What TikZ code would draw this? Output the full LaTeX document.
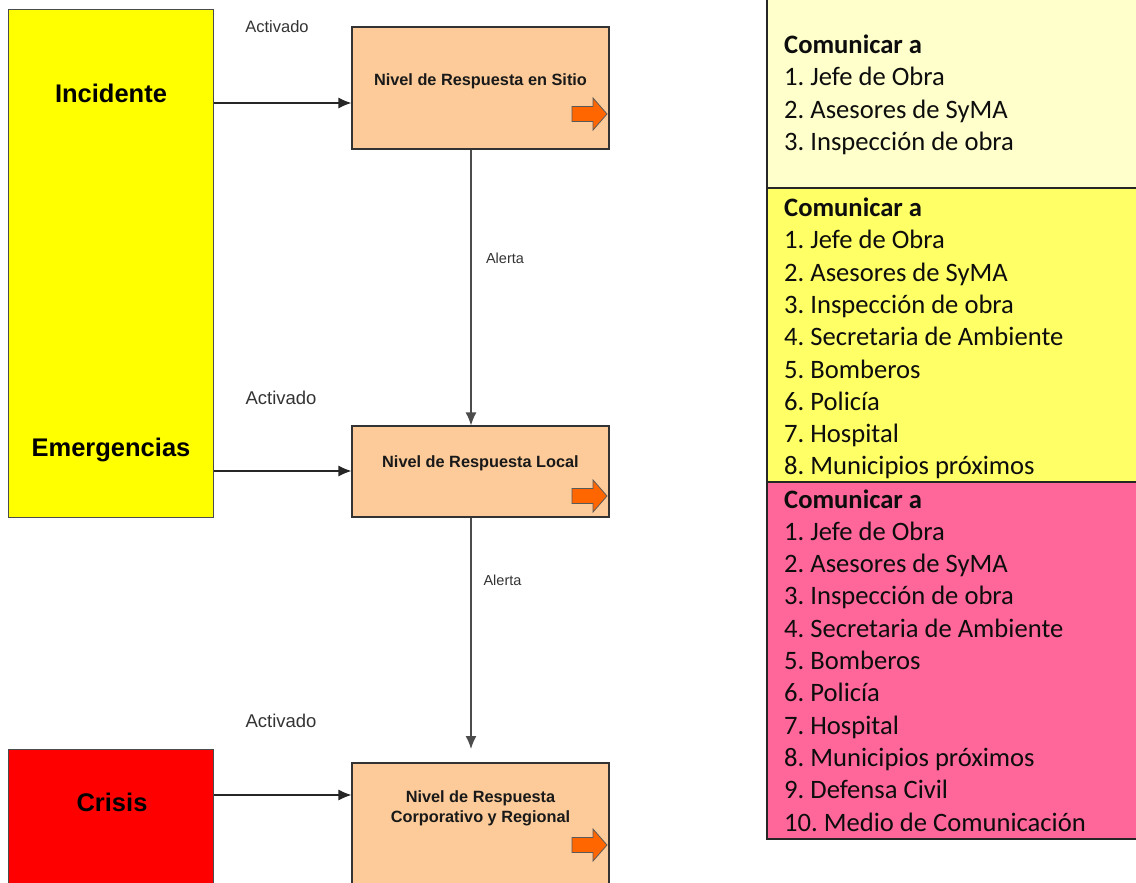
\documentclass[tikz,border=0pt]{standalone}
\usepackage{fontspec}
\setmainfont{Liberation Sans}
\newfontfamily\carlito{Carlito}
\usetikzlibrary{arrows.meta}
\frenchspacing
\definecolor{peach}{HTML}{FCCB99}
\definecolor{lvyellow}{HTML}{FFFF00}
\definecolor{lvred}{HTML}{FF0000}
\definecolor{orangeA}{HTML}{FF6600}
\definecolor{paleyellow}{HTML}{FFFFCC}
\definecolor{midyellow}{HTML}{FFFF66}
\definecolor{pinkA}{HTML}{FF6699}
\definecolor{labelgray}{HTML}{333333}
\tikzset{
  levelbox/.style={draw=black!70, line width=1pt, inner sep=0pt, minimum width=205pt},
  respbox/.style={draw=black!80, line width=1.1pt, fill=peach, inner sep=0pt, minimum width=257pt},
  bigtext/.style={font=\fontsize{25.5}{30}\selectfont\bfseries, inner sep=0pt},
  resptext/.style={font=\fontsize{16.3}{20}\selectfont\bfseries, align=center, inner sep=0pt, text=black!90},
  activ/.style={font=\fontsize{18.5}{22}\selectfont, text=labelgray, inner sep=0pt},
  alerta/.style={font=\fontsize{14.5}{17}\selectfont, text=labelgray, inner sep=0pt},
  arr/.style={draw=black!85, line width=1.2pt, -{Latex[length=13pt,width=11pt]}},
  varr/.style={draw=black!70, line width=1.4pt, -{Latex[length=13pt,width=11pt]}},
  panel/.style={draw=black!85, line width=1.4pt, inner sep=0pt},
  ptext/.style={font=\carlito\fontsize{26.6}{32}\selectfont, anchor=base west, inner sep=0pt, text=black!95},
  orarrow/.pic={\filldraw[fill=orangeA, draw=black!65, line width=0.8pt]
    (-17.5,-7.5) -- (3.5,-7.5) -- (3.5,-16) -- (17.5,0) -- (3.5,16) -- (3.5,7.5) -- (-17.5,7.5) -- cycle;}
}
\begin{document}
\begin{tikzpicture}[x=1pt,y=-1pt]
\useasboundingbox (0,0) rectangle (1136,883);
\clip (0,0) rectangle (1136,883);

% left level boxes
\node[levelbox, fill=lvyellow, minimum height=507pt] (yel) at (110.5,263.5) {};
\node[levelbox, fill=lvred, minimum height=160pt] (red) at (110.5,829) {};
\node[bigtext] (tinc) at (111,93) {Incidente};
\node[bigtext] (temg) at (111,450) {Emergencias};
\node[bigtext] (tcri) at (112,802) {Crisis};

% response boxes
\node[respbox, minimum height=122pt] (box1) at (480.5,88) {};
\node[respbox, minimum height=91pt] (box2) at (480.5,471.5) {};
\node[respbox, minimum height=150pt] (box3) at (480.5,838) {};
\node[resptext] (t1) at (480.5,81) {Nivel de Respuesta en Sitio};
\node[resptext] (t2) at (480.5,463) {Nivel de Respuesta Local};
\node[resptext] (t3) at (480.5,808) {Nivel de Respuesta\\Corporativo y Regional};
\pic at (589.5,114) {orarrow};
\pic at (589.5,496) {orarrow};
\pic at (589.5,845) {orarrow};

% labels
\node[activ, font=\fontsize{16.5}{20}\selectfont] (a1) at (277,27) {Activado};
\node[activ] (a2) at (281,398) {Activado};
\node[activ] (a3) at (281,721) {Activado};
\node[alerta] (al1) at (505,258) {Alerta};
\node[alerta] (al2) at (502.5,580) {Alerta};

% connectors
\coordinate (h1) at (0,103);
\coordinate (h2) at (0,471);
\coordinate (h3) at (0,795);
\coordinate (v1) at (471,0);
\coordinate (e3) at (471,749);
\draw[arr] (yel.east |- h1) -- (box1.west |- h1);
\draw[arr] (yel.east |- h2) -- (box2.west |- h2);
\draw[arr] (red.east |- h3) -- (box3.west |- h3);
\draw[varr] (box1.south -| v1) -- (box2.north -| v1);
\draw[varr] (box2.south -| v1) -- (e3);

% right panels
\path[panel, fill=paleyellow] (767,-5) rectangle (1145,188);
\path[panel, fill=midyellow] (767,188) rectangle (1145,482);
\path[panel, fill=pinkA] (767,482) rectangle (1145,839);

\foreach \t [count=\i from 0] in {{\textbf{Comunicar a}},{1. Jefe de Obra},{2. Asesores de SyMA},{3. Inspección de obra}}
  \node[ptext] (pa\i) at (784,53.5+32.3*\i) {\t};
\foreach \t [count=\i from 0] in {{\textbf{Comunicar a}},{1. Jefe de Obra},{2. Asesores de SyMA},{3. Inspección de obra},{4. Secretaria de Ambiente},{5. Bomberos},{6. Policía},{7. Hospital},{8. Municipios próximos}}
  \node[ptext] (pb\i) at (784,216.5+32.3*\i) {\t};
\foreach \t [count=\i from 0] in {{\textbf{Comunicar a}},{1. Jefe de Obra},{2. Asesores de SyMA},{3. Inspección de obra},{4. Secretaria de Ambiente},{5. Bomberos},{6. Policía},{7. Hospital},{8. Municipios próximos},{9. Defensa Civil},{10. Medio de Comunicación}}
  \node[ptext] (pc\i) at (784,508+32.3*\i) {\t};
\end{tikzpicture}
\end{document}
